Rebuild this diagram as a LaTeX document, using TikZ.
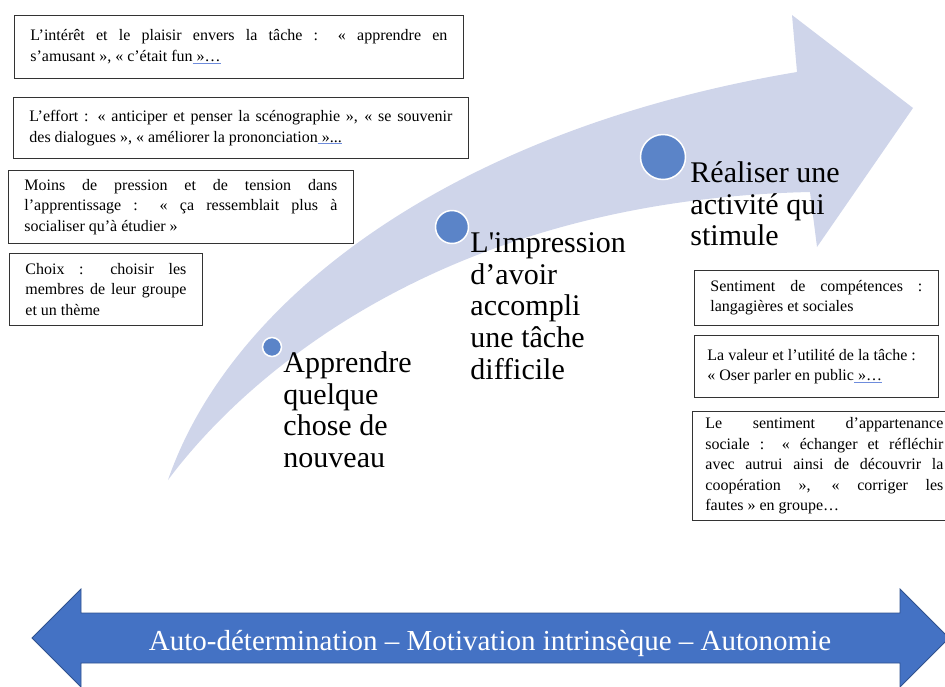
\documentclass[tikz,border=0pt]{standalone}
\usepackage{fontspec}
\setmainfont{Liberation Serif}[Ligatures=TeXOff]
\usetikzlibrary{positioning}
\definecolor{bandblue}{RGB}{207,213,234}
\definecolor{dotblue}{RGB}{91,132,200}
\definecolor{barblue}{RGB}{68,114,196}
\definecolor{barline}{RGB}{47,82,143}
\definecolor{markblue}{RGB}{110,140,220}
\newcommand{\spellmark}[1]{{\color{markblue}\underline{\color{black}#1}}}
\hyphenpenalty=10000

\begin{document}
\begin{tikzpicture}[x=1pt,y=-1pt,
  notebox/.style={draw=black!80, line width=0.8pt, anchor=north west, inner xsep=16pt, inner ysep=3pt,
    align=justify, font=\fontsize{16}{20.5}\selectfont},
  dot/.style={circle, fill=dotblue, draw=white, line width=1.5pt, inner sep=0pt},
  steplabel/.style={anchor=north west, inner sep=0pt, align=left, font=\fontsize{30}{31.7}\selectfont}]
  \useasboundingbox (0,0) rectangle (945,686);
  \clip (0,0) rectangle (945,686);

  % rising arrow
  \fill[bandblue] (168,480) .. controls (230,300) and (450,130) .. (797,72) -- (792,15) -- (913,108)
    -- (817,247) -- (810,192) .. controls (450,200) and (250,370) .. (168,480) -- cycle;

  \node[dot, minimum size=19pt] (d1) at (272,347) {};
  \node[dot, minimum size=33pt] (d2) at (452,227) {};
  \node[dot, minimum size=45pt] (d3) at (663,157) {};

  \node[steplabel] (s1) at ([xshift=1pt,yshift=-4.5pt]d1.east) {Apprendre\\quelque\\chose de\\nouveau};
  \node[steplabel] (s2) at ([xshift=1pt,yshift=-5.5pt]d2.east) {L'impression\\d’avoir\\accompli\\une tâche\\difficile};
  \node[steplabel] (s3) at ([xshift=4pt,yshift=-4.5pt]d3.east) {Réaliser une\\activité qui\\stimule};

  % left boxes
  \node[notebox, text width=417pt, minimum height=63pt] (b1) at (14,15)
    {L’intérêt et le plaisir envers la tâche~: «~apprendre en\linebreak s’amusant~», «~c’était fun\spellmark{~»…}};
  \node[notebox, text width=423pt, minimum height=61pt] (b2) at (13,97)
    {L’effort~: «~anticiper et penser la scénographie~», «~se souvenir\linebreak des dialogues~», «~améliorer la prononciation\spellmark{~»...}};
  \node[notebox, text width=313pt, minimum height=73pt] (b3) at (8,170)
    {Moins de pression et de tension dans\linebreak l’apprentissage~: «~ça ressemblait plus à\linebreak socialiser qu’à étudier~»};
  \node[notebox, text width=161pt, minimum height=72pt] (b4) at (9,253)
    {Choix~: choisir les\linebreak membres de leur groupe\linebreak et un thème};

  % right boxes
  \node[notebox, text width=212pt, minimum height=55pt] (b5) at (694,270)
    {Sentiment de compétences~:\linebreak langagières et sociales};
  \node[notebox, inner xsep=13pt, text width=218pt, minimum height=62pt] (b6) at (694,335)
    {La valeur et l’utilité de la tâche~:\\ «~Oser parler en public\spellmark{~»…}};
  \node[notebox, inner xsep=13pt, text width=238pt, minimum height=109pt] (b7) at (692,411)
    {Le sentiment d’appartenance\linebreak sociale~: «~échanger et réfléchir\linebreak avec autrui ainsi de découvrir la\linebreak coopération~», «~corriger les\linebreak fautes~» en groupe…};

  % base arrow
  \filldraw[fill=barblue, draw=barline, line width=0.8pt] (32,638) -- (81,589) -- (81,613) -- (900,613)
    -- (900,589) -- (949,638) -- (900,687) -- (900,663) -- (81,663) -- (81,687) -- cycle;
  \node[anchor=base, text=white, font=\fontsize{29}{31}\selectfont] (axis) at (490,650)
    {Auto-détermination – Motivation intrinsèque – Autonomie};
\end{tikzpicture}
\end{document}
